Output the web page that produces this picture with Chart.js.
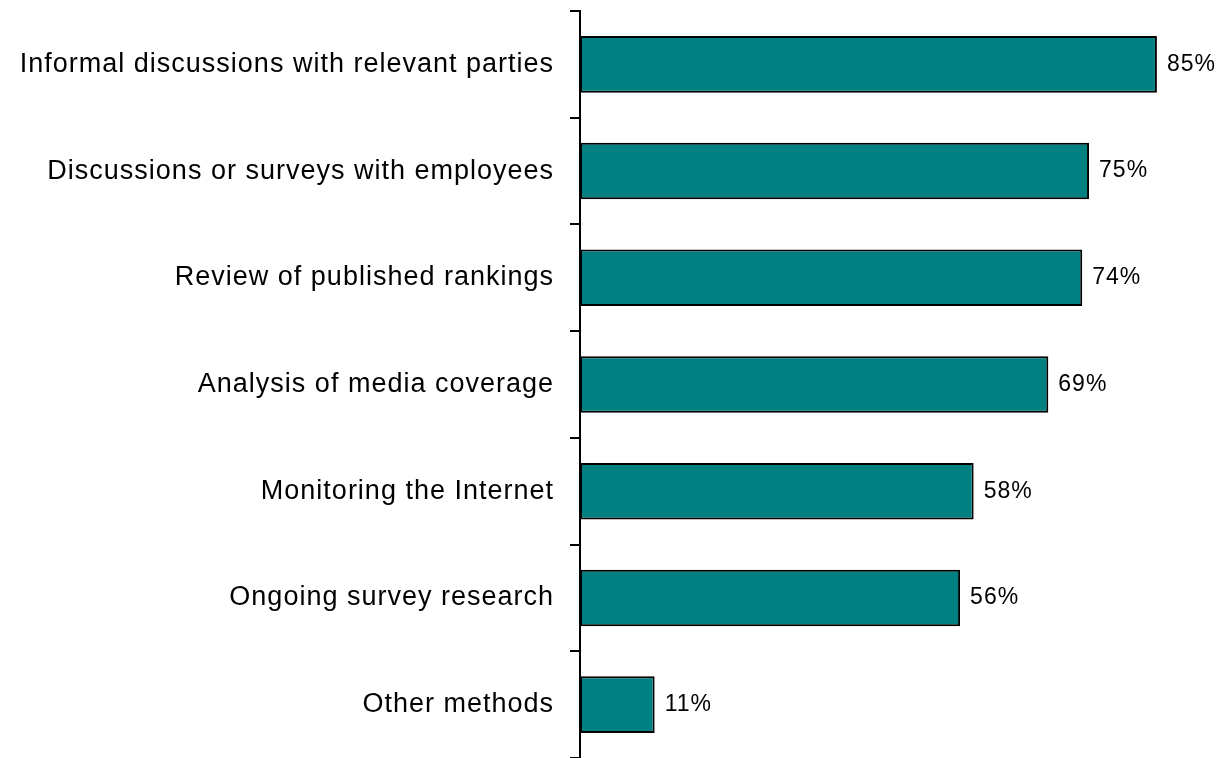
<!DOCTYPE html>
<html>
<head>
<meta charset="utf-8">
<script src="https://cdn.jsdelivr.net/npm/chart.js@4/dist/chart.umd.min.js"></script>
<style>
  html, body { margin: 0; padding: 0; background: #fff; }
  #wrap { width: 1220px; height: 758px; position: relative; }
</style>
</head>
<body>
<div id="wrap"><canvas id="methodsChart"></canvas></div>
<script>
// Methods used, share of respondents (%)
const methods = [
    'Informal discussions with relevant parties',
    'Discussions or surveys with employees',
    'Review of published rankings',
    'Analysis of media coverage',
    'Monitoring the Internet',
    'Ongoing survey research',
    'Other methods'
];
const shares = [85, 75, 74, 69, 58, 56, 11];

const fontFamily = '"Liberation Sans", Arial, sans-serif';

// Slightly loose letter spacing for all text on the canvas
const spacing = {
    id: 'spacing',
    beforeDraw(chart) {
        chart.ctx.letterSpacing = '1px';
    }
};

// Write the percentage just past the end of each bar
const valueLabels = {
    id: 'valueLabels',
    afterDatasetsDraw(chart) {
        const ctx = chart.ctx;
        const meta = chart.getDatasetMeta(0);
        ctx.save();
        ctx.letterSpacing = '1px';
        ctx.font = '23px ' + fontFamily;
        ctx.fillStyle = '#000';
        ctx.textAlign = 'left';
        ctx.textBaseline = 'middle';
        meta.data.forEach((bar, i) => {
            ctx.fillText(shares[i] + '%', bar.x + 10, bar.y);
        });
        ctx.restore();
    }
};

const ctx = document.getElementById('methodsChart').getContext('2d');
new Chart(ctx, {
    type: 'bar',
    data: {
        labels: methods,
        datasets: [{
            data: shares,
            backgroundColor: '#008080',
            borderColor: '#000',
            borderWidth: 2,
            borderSkipped: false,
            barPercentage: 0.53,
            categoryPercentage: 1
        }]
    },
    options: {
        indexAxis: 'y',
        responsive: true,
        maintainAspectRatio: false,
        animation: false,
        layout: { padding: { top: 11, bottom: 0, right: 2, left: 0 } },
        plugins: {
            legend: { display: false },
            tooltip: { enabled: false }
        },
        scales: {
            x: {
                display: false,
                min: 0,
                max: 94
            },
            y: {
                afterFit(scale) {
                    scale.width = 580;
                    scale.paddingTop = 0;
                    scale.paddingBottom = 0;
                },
                border: { display: true, color: '#000', width: 2 },
                grid: {
                    offset: true,
                    drawOnChartArea: false,
                    drawTicks: true,
                    tickLength: 10,
                    color: '#000',
                    lineWidth: 2
                },
                ticks: {
                    color: '#000',
                    padding: 16,
                    font: { family: fontFamily, size: 27 }
                }
            }
        }
    },
    plugins: [spacing, valueLabels]
});
</script>
</body>
</html>
